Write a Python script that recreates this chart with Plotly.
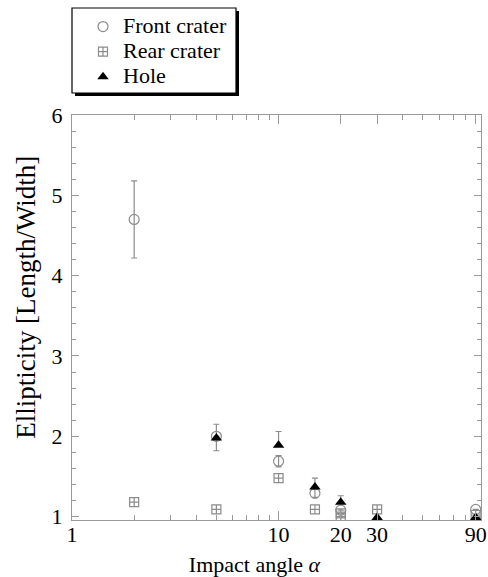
import plotly.graph_objects as go

# Data
front_x = [2, 5, 10, 15, 20, 90]
front_y = [4.70, 2.00, 1.69, 1.29, 1.08, 1.09]
front_err = [0.48, 0.0, 0.07, 0.05, 0.0, 0.0]

rear_x = [2, 5, 10, 15, 20, 20, 30, 90]
rear_y = [1.18, 1.09, 1.48, 1.09, 1.04, 1.00, 1.09, 1.02]

hole_x = [5, 10, 15, 20, 30, 90]
hole_y = [1.98, 1.89, 1.37, 1.18, 0.99, 0.99]
hole_err_plus = [0.17, 0.17, 0.11, 0.08, 0.0, 0.0]
hole_err_minus = [0.16, 0.0, 0.0, 0.0, 0.0, 0.0]

x_ticks = [1, 10, 20, 30, 90]
x_minor = [2, 3, 4, 5, 6, 7, 8, 9, 20, 30, 40, 50, 60, 70, 80, 90]
y_ticks = [1, 2, 3, 4, 5, 6]

GRAY = "#8c8c8c"
AX = "#9a9a9a"
FONT = "Liberation Serif"
NB = "&nbsp;"

def big(s):
    return "<span style='font-size:22px'>" + s + "</span>"

fig = go.Figure()
fig.add_trace(go.Scatter(
    x=front_x, y=front_y, mode="markers", name=big("Front crater"),
    marker=dict(symbol="circle-open", size=10, color=GRAY, line=dict(width=1.2, color=GRAY)),
    error_y=dict(type="data", array=front_err, visible=True, color=GRAY, thickness=1.2, width=3),
))
fig.add_trace(go.Scatter(
    x=rear_x, y=rear_y, mode="markers", name=big("Rear crater"),
    marker=dict(symbol="square-cross-open", size=9, color=GRAY, line=dict(width=1.2, color=GRAY)),
))
fig.add_trace(go.Scatter(
    x=hole_x, y=hole_y, mode="markers", name=big("Hole"),
    marker=dict(symbol="triangle-up", size=10, color="black"),
    error_y=dict(type="data", array=hole_err_plus, arrayminus=hole_err_minus, visible=True,
                 color=GRAY, thickness=1.2, width=3),
))

W, H = 488, 577
L, R, T, B = 72, 7, 115, 57
pw, ph = W - L - R, H - T - B

def px2paper(x, y):
    return (x - L) / pw, (H - B - y) / ph

# legend frame with drop shadow
sx0, sy0 = px2paper(75, 11)
sx1, sy1 = px2paper(239, 96)
fig.add_shape(type="rect", xref="paper", yref="paper", x0=sx0, x1=sx1, y0=sy1, y1=sy0,
              fillcolor="black", line=dict(width=0), layer="above")
bx0, by0 = px2paper(72, 8)
bx1, by1 = px2paper(236, 93)
fig.add_shape(type="rect", xref="paper", yref="paper", x0=bx0, x1=bx1, y0=by1, y1=by0,
              fillcolor="white", line=dict(width=1.2, color="black"), layer="above")

lx, ly = px2paper(83, 9)
fig.update_layout(
    width=W, height=H,
    margin=dict(l=L, r=R, t=T, b=B, autoexpand=False),
    paper_bgcolor="white", plot_bgcolor="white",
    font=dict(family=FONT, size=22, color="black"),
    showlegend=True,
    legend=dict(x=lx, y=ly, xanchor="left", yanchor="top",
                bgcolor="rgba(0,0,0,0)", borderwidth=0,
                font=dict(family=FONT, size=17),
                tracegroupgap=0),
    xaxis=dict(type="log", range=[0, 1.98], tickvals=x_ticks, ticktext=[str(v) for v in x_ticks],
               ticks="inside", ticklen=9, tickcolor=AX, tickwidth=1,
               showline=True, linecolor=AX, linewidth=1, mirror="allticks",
               showgrid=False, zeroline=False, automargin=False, ticklabelstandoff=-5,
               minor=dict(tickvals=x_minor, ticks="inside", ticklen=5, tickcolor=AX, showgrid=False),
               title=dict(text="Impact angle <i>α</i>" + NB * 8, font=dict(family=FONT, size=22), standoff=19),
               tickfont=dict(family=FONT, size=22)),
    yaxis=dict(range=[0.958, 6.0], tickvals=y_ticks,
               ticks="inside", ticklen=7, tickcolor=AX, tickwidth=1,
               showline=True, linecolor=AX, linewidth=1, mirror="allticks",
               showgrid=False, zeroline=False, automargin=False, ticklabelstandoff=4,
               minor=dict(dtick=0.2, tick0=1, ticks="inside", ticklen=4, tickcolor=AX, showgrid=False),
               title=dict(text=NB * 6 + "Ellipticity [Length/Width]", font=dict(family=FONT, size=27), standoff=8),
               tickfont=dict(family=FONT, size=22)),
)

# remove the page's default body margin so the figure fills the window exactly
fig.write_html("out.html", config={"displayModeBar": False},
               post_script="document.body.style.margin='0';document.body.style.overflow='hidden';")
